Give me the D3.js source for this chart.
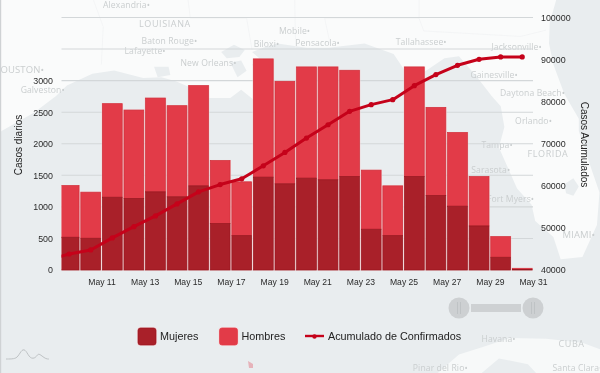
<!DOCTYPE html>
<html lang="es">
<head>
<meta charset="utf-8">
<script src="https://cdn.jsdelivr.net/npm/d3@7"></script>
<style>
html,body{margin:0;padding:0;background:#e9edef;overflow:hidden}
svg{display:block;filter:blur(0.35px)}
text{font-family:"Liberation Sans",Arial,sans-serif}
.map text{font-family:"Open Sans",sans-serif;fill:#cacecf}
</style>
</head>
<body>
<svg id="chart" width="600" height="373"></svg>
<script>
// ---- chart data ----
const firstBarDay = Date.UTC(2020, 4, 9);
const mujeres = [519,503,1153,1133,1238,1159,1333,735,544,1471,1365,1455,1429,1481,646,544,1481,1179,1011,698,202,10];
const hombres = [819,730,1482,1401,1486,1444,1588,1000,853,1873,1624,1762,1788,1683,936,789,1736,1397,1168,783,327,17];
// cumulative series starts one day before the first visible bar (May 8), clipped by the plot
const firstLineDay = Date.UTC(2020, 4, 8);
const acumulado = [42400,43800,44760,47620,50300,52860,55700,58570,60300,61670,64760,67930,71360,74520,77700,79290,80480,83810,86430,88640,90070,90640,90640];
const leftTicks = [0,500,1000,1500,2000,2500,3000];
const gridTicks = [0,500,1000,1500,2000,2500,3000,3500,4000];
const rightTicks = [40000,50000,60000,70000,80000,90000,100000];
const legendNames = ["Mujeres","Hombres","Acumulado de Confirmados"];

// ---- background map (lon/lat) ----
const gulfCoast = [[-98,26.8],[-97.2,27.6],[-96.5,28.3],[-95.6,28.75],[-95,29.15],[-94.7,29.4],[-94,29.68],[-93.4,29.76],[-92.6,29.58],[-92.1,29.6],[-91.7,29.5],[-91.3,29.35],[-90.8,29.1],[-90.2,29.1],[-89.9,29.3],[-89.4,28.95],[-89.1,29.1],[-89.4,29.6],[-89.6,29.9],[-89.4,30.05],[-89.6,30.2],[-89.3,30.3],[-88.9,30.4],[-88.1,30.3],[-87.5,30.3],[-86.5,30.4],[-85.7,30.15],[-85.35,29.7],[-84.9,29.7],[-84.3,30.05],[-83.9,30.1],[-83.4,29.6],[-83,29.15],[-82.75,28.9],[-82.65,28.4],[-82.8,27.9],[-82.55,27.4],[-82.3,26.9],[-81.9,26.5],[-81.8,26.1],[-81.3,25.7],[-81.1,25.15],[-80.5,25.2],[-80.3,25.6],[-80.1,26],[-80.03,26.8],[-80.3,27.5],[-80.6,28.3],[-80.6,28.6],[-81,29.2],[-81.3,29.9],[-81.42,30.4],[-81.4,30.9],[-81.2,31.5],[-80.9,32],[-80.4,33],[-98,33]];
const cuba = [[-84.95,21.87],[-84.4,22.35],[-83.9,22.75],[-83.2,22.95],[-82.5,23.17],[-81.5,23.15],[-80.5,23.05],[-79.5,22.7],[-78.5,22.4],[-78.5,21],[-80,21.7],[-81.5,22],[-82,22.5],[-82.8,22.65],[-83.5,22.1],[-84.3,21.85]];
const lakes = [
  [[-90.45,30.2],[-90.1,30.37],[-89.8,30.25],[-89.95,30.08],[-90.3,30.05]],
  [[-90.2,29.95],[-89.9,30],[-89.75,29.75],[-90,29.6]],
  [[-81,27],[-80.75,27.15],[-80.6,26.95],[-80.75,26.72],[-80.95,26.78]],
  [[-92.3,29.85],[-91.9,29.85],[-91.85,29.65],[-92.2,29.6]]
];
const borders = [
  [[-87.6,31],[-85,31],[-84.87,30.7],[-82.2,30.57],[-81.5,30.72]],
  [[-94,31.5],[-93.7,30.8],[-93.75,29.9]],
  [[-91.6,33],[-91.3,31],[-89.75,31],[-89.6,30.25]],
  [[-88.45,32.5],[-88.4,30.3]],
  [[-87.6,31],[-87.45,30.4]],
  [[-85,33],[-85,31]]
];
const cities = [
  ["Alexandria",-92.45,31.31],["Baton Rouge",-91.15,30.45],["Lafayette",-92.02,30.22],["New Orleans",-90.07,29.95],
  ["Biloxi",-88.89,30.4],["Mobile",-88.04,30.69],["Pensacola",-87.22,30.42],["Tallahassee",-84.28,30.44],
  ["Jacksonville",-81.66,30.33],["Gainesville",-82.32,29.65],["Daytona Beach",-81.02,29.21],["Orlando",-81.38,28.54],
  ["Tampa",-82.46,27.95],["Sarasota",-82.53,27.34],["Fort Myers",-81.87,26.64],["MIAMI",-80.19,25.76],
  ["HOUSTON",-95.37,29.76],["Galveston",-94.8,29.3],["Havana",-82.38,23.13],["Pinar del Rio",-83.7,22.41],["Santa Clara",-79.99,22.41]
];
const regions = [["LOUISIANA",-92,30.87],["FLORIDA",-81.45,27.75],["CUBA",-80.8,23.03]];

// ---- layout ----
const W = 600, H = 373;
const plot = {l:61.5, r:533, t:17.5, b:270};
const svg = d3.select("#chart");
const DAY = 864e5;

// ---- map ----
const projection = d3.geoMercator().scale(2080).rotate([0,0]).translate([0,0]);
const refPt = projection([-90.07,29.95]);
projection.translate([235-refPt[0], 62.5-refPt[1]]);
const mapLine = d3.line().x(d=>projection(d)[0]).y(d=>projection(d)[1]);
const mapG = svg.append("g").attr("class","map");
mapG.append("rect").attr("width",W).attr("height",H).attr("fill","#e9edef");
mapG.append("path").attr("d",mapLine(gulfCoast)+"Z").attr("fill","#fafbfb");
mapG.append("path").attr("d",mapLine(cuba)+"Z").attr("fill","#f7f9f9");
mapG.selectAll("path.lake").data(lakes).join("path").attr("class","lake")
  .attr("d",d=>mapLine(d)+"Z").attr("fill","#e9edef");
mapG.selectAll("path.border").data(borders).join("path").attr("class","border")
  .attr("d",d=>mapLine(d)).attr("fill","none").attr("stroke","#f0f2f3").attr("stroke-width",0.7);
mapG.selectAll("text.city").data(cities).join("text").attr("class","city")
  .attr("x",d=>projection([d[1],d[2]])[0]+1.5)
  .attr("y",d=>projection([d[1],d[2]])[1]+3)
  .attr("text-anchor","end").attr("font-size",d=>d[0]==d[0].toUpperCase()?9.5:8.6)
  .style("letter-spacing","0.1px").text(d=>d[0]+"•");
mapG.selectAll("text.region").data(regions).join("text").attr("class","region")
  .attr("x",d=>projection([d[1],d[2]])[0]).attr("y",d=>projection([d[1],d[2]])[1]+3.5)
  .attr("text-anchor","middle").attr("font-size",9).style("letter-spacing","0.6px").text(d=>d[0]);

// ---- scales ----
const x = d3.scaleUtc().domain([Date.UTC(2020,4,9,3,30), Date.UTC(2020,4,31)]).range([plot.l,plot.r]);
const y = d3.scaleLinear().domain([0,4000]).range([plot.b,plot.t]);
const y2 = d3.scaleLinear().domain([40000,100000]).range([plot.b,plot.t]);

svg.append("defs").append("clipPath").attr("id","plotClip").append("rect")
  .attr("x",plot.l).attr("y",0).attr("width",plot.r-plot.l).attr("height",plot.b+3);

// ---- grid ----
svg.append("g").selectAll("line").data(gridTicks).join("line")
  .attr("x1",plot.l).attr("x2",plot.r).attr("y1",d=>y(d)).attr("y2",d=>y(d))
  .attr("stroke","#d3d7d9").attr("stroke-width",1.1);

// ---- bars ----
const rows = mujeres.map((m,i)=>({start:firstBarDay+i*DAY, end:firstBarDay+(i+1)*DAY, m, h:hombres[i]}));
const bars = svg.append("g").attr("clip-path","url(#plotClip)");
const pad = 0.9;
bars.selectAll("rect.halo").data(rows).join("rect").attr("class","halo")
  .attr("x",d=>x(d.start)).attr("width",d=>x(d.end)-x(d.start))
  .attr("y",d=>y(d.m+d.h)-0.5).attr("height",d=>y(0)-y(d.m+d.h)+1)
  .attr("fill","#f7cfd1").attr("opacity",0.85);
bars.selectAll("rect.hombres").data(rows).join("rect").attr("class","hombres")
  .attr("x",d=>x(d.start)+pad).attr("width",d=>x(d.end)-x(d.start)-2*pad)
  .attr("y",d=>y(d.m+d.h)).attr("height",d=>y(d.m)-y(d.m+d.h))
  .attr("fill","#e23b48").attr("stroke","#cf2f3b").attr("stroke-width",0.7);
bars.selectAll("rect.mujeres").data(rows).join("rect").attr("class","mujeres")
  .attr("x",d=>x(d.start)+pad).attr("width",d=>x(d.end)-x(d.start)-2*pad)
  .attr("y",d=>y(d.m)).attr("height",d=>y(0)-y(d.m))
  .attr("fill","#a92029").attr("stroke","#98161f").attr("stroke-width",0.7);

// ---- line ----
const linePts = acumulado.map((v,i)=>({t:firstLineDay+(i+0.5)*DAY, v}));
const lineG = svg.append("g").attr("clip-path","url(#plotClip)");
lineG.append("path")
  .attr("d",d3.line().x(d=>x(d.t)).y(d=>y2(d.v))(linePts))
  .attr("fill","none").attr("stroke","#c5021a").attr("stroke-width",3).attr("stroke-linejoin","round");
lineG.selectAll("circle").data(linePts).join("circle")
  .attr("cx",d=>x(d.t)).attr("cy",d=>y2(d.v)).attr("r",2.6).attr("fill","#c5021a");

// ---- axes ----
function styleAxis(g, size){
  g.select(".domain").remove();
  g.selectAll(".tick line").remove();
  g.selectAll("text").attr("font-family","'Liberation Sans',Arial,sans-serif").attr("font-size",size).attr("fill","#2b2b2b");
}
const xTickDates = d3.utcDay.range(new Date(Date.UTC(2020,4,11)), new Date(Date.UTC(2020,5,1)), 2);
svg.append("g").attr("transform",`translate(0,${plot.b})`)
  .call(d3.axisBottom(x).tickValues(xTickDates).tickFormat(d3.utcFormat("%b %d")).tickSize(0).tickPadding(9))
  .call(g=>styleAxis(g,8.6));
svg.append("g").attr("transform",`translate(${plot.l},0)`)
  .call(d3.axisLeft(y).tickValues(leftTicks).tickFormat(d3.format("d")).tickSize(0).tickPadding(8.5))
  .call(g=>styleAxis(g,8.9));
svg.append("g").attr("transform",`translate(${plot.r},0)`)
  .call(d3.axisRight(y2).tickValues(rightTicks).tickFormat(d3.format("d")).tickSize(0).tickPadding(8))
  .call(g=>styleAxis(g,8.9));

svg.append("text").attr("transform","translate(18,145) rotate(-90)")
  .attr("text-anchor","middle").attr("dy","0.35em").attr("font-size",10).attr("fill","#222").text("Casos diarios");
svg.append("text").attr("transform","translate(584,144.5) rotate(90)")
  .attr("text-anchor","middle").attr("dy","0.35em").attr("font-size",10).attr("fill","#222").text("Casos Acumulados");

// ---- legend ----
const lg = svg.append("g");
[["#a92029","#98161f",138],["#e23b48","#e23b48",219.5]].forEach(([fill,stroke,lx],i)=>{
  lg.append("rect").attr("x",lx-1).attr("y",327).attr("width",20).attr("height",19).attr("rx",3.5).attr("fill","#f9d6d8").attr("opacity",0.7);
  lg.append("rect").attr("x",lx).attr("y",328).attr("width",18).attr("height",17).attr("rx",2.5)
    .attr("fill",fill).attr("stroke",stroke).attr("stroke-width",0.7);
  lg.append("text").attr("x",lx+22).attr("y",336.5).attr("dy","0.35em").attr("font-size",10.8).attr("fill","#222").text(legendNames[i]);
});
lg.append("line").attr("x1",305).attr("x2",324).attr("y1",336).attr("y2",336).attr("stroke","#c5021a").attr("stroke-width",2.4);
lg.append("circle").attr("cx",314.5).attr("cy",336.5).attr("r",2.2).attr("fill","#c5021a");
lg.append("text").attr("x",328).attr("y",336.5).attr("dy","0.35em").attr("font-size",10.8).attr("fill","#222").text(legendNames[2]);

// ---- range slider ----
const sl = svg.append("g");
sl.append("rect").attr("x",471).attr("y",304).attr("width",50).attr("height",8).attr("fill","#ced1d3");
[459,533].forEach(cx=>{
  sl.append("circle").attr("cx",cx).attr("cy",308).attr("r",10.5).attr("fill","#cdd0d2");
  [-1.5,1.5].forEach(o=>sl.append("line").attr("x1",cx+o).attr("x2",cx+o).attr("y1",302).attr("y2",314)
    .attr("stroke","#bfc3c5").attr("stroke-width",1));
});

// ---- small decorations ----
const logo = svg.append("g").attr("fill","none").attr("stroke","#bfc3c5").attr("stroke-width",1);
logo.append("path").attr("d",d3.line().curve(d3.curveBasis)([[6,359],[14,359],[18,357],[22,349],[26,350],[30,359],[36,358],[38,353],[42,356],[46,359],[49,359]]));
svg.append("path").attr("d","M248,361 L253,364 L253,368 L249,368 Z").attr("fill","#e6b3ba");
svg.append("rect").attr("x",0).attr("y",0).attr("width",1.2).attr("height",H).attr("fill","#cfd2d4");
</script>
</body>
</html>
